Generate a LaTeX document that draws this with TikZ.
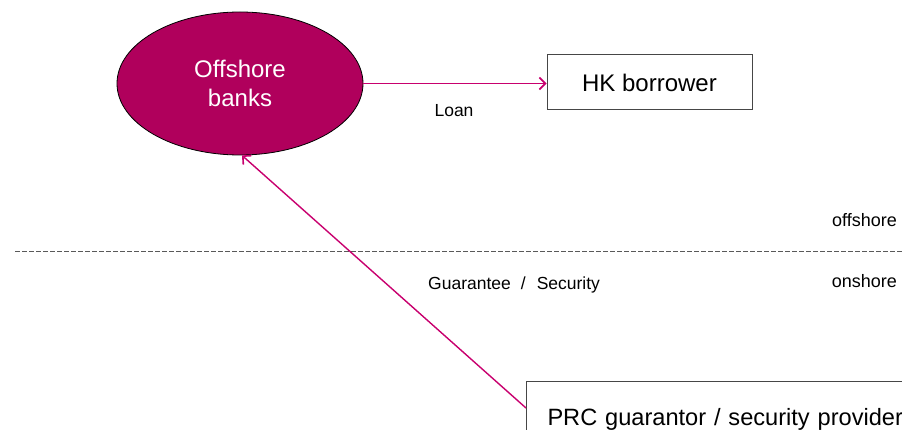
\documentclass[tikz,border=0pt]{standalone}
\usepackage{fontspec}
\setmainfont{Liberation Sans}
\usetikzlibrary{shapes.geometric,arrows.meta}
\definecolor{berry}{RGB}{176,0,92}
\definecolor{berryline}{RGB}{200,0,110}
\definecolor{boxline}{RGB}{70,70,70}
\tikzset{
  bigtext/.style={font=\fontsize{24}{29}\selectfont},
  smalltext/.style={font=\fontsize{17.5}{21}\selectfont, text=black, inner sep=0pt},
  plainbox/.style={draw=boxline, line width=1pt, fill=white, bigtext, text=black},
  flow/.style={draw=berryline, color=berryline, line width=1.4pt, -{Straight Barb[length=6pt,width=12pt,line width=1.6pt]}},
  border/.style={draw=gray!70!black, line width=1pt, dash pattern=on 4.5pt off 2.5pt}
}
\begin{document}
\begin{tikzpicture}[x=1pt,y=1pt]
\useasboundingbox (0,0) rectangle (902,429);
\clip (0,0) rectangle (902,429);
% dashed boundary
\coordinate (dl) at (15,178);
\coordinate (dr) at (902,178);
\draw[border] (dl) -- (dr);
% nodes
\node[ellipse, draw=black, line width=0.8pt, fill=berry, minimum width=246pt, minimum height=143pt,
      bigtext, text=white, align=center, inner sep=0pt] (banks) at (240,345.5) {Offshore\\banks};
\node[plainbox, minimum width=205pt, minimum height=55pt, inner sep=0pt] (hk) at (649.5,346.5) {HK borrower};
\node[plainbox, anchor=north west, minimum width=420pt, minimum height=76pt,
      text width=378pt, inner xsep=21pt, inner ysep=0pt, align=left, font=\fontsize{23.6}{28}\selectfont] (prc) at (526,48)
      {PRC guarantor / security provider};
% labels
\node[smalltext, anchor=base] (loan) at (454,312) {Loan};
\node[smalltext, anchor=base west] (guar) at (428,140) {Guarantee\hspace{10pt}/\hspace{11pt}Security};
\node[smalltext, anchor=base east, font=\fontsize{18}{21}\selectfont] (off) at (897,203) {offshore};
\node[smalltext, anchor=base east, font=\fontsize{18}{21}\selectfont] (on) at (897,142) {onshore};
% connectors
\draw[flow] (banks.east) -- (banks.east -| hk.west);
\coordinate (gstart) at ([yshift=-27pt]prc.north west);
\draw[flow] (gstart) -- ([xshift=2pt]banks.south);
\end{tikzpicture}
\end{document}
